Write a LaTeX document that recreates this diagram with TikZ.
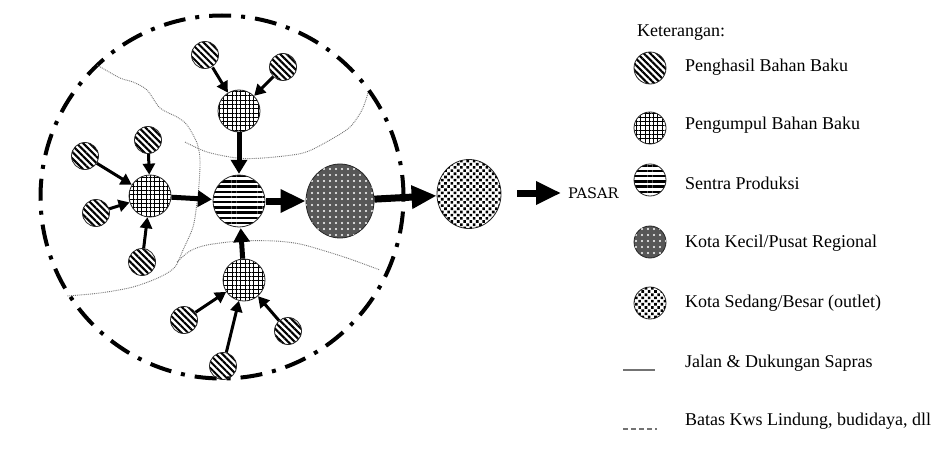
\documentclass[tikz,border=0pt]{standalone}
\usepackage{fontspec}
\setmainfont{Liberation Serif}
\newfontfamily\slabf{DejaVu Serif}
\usetikzlibrary{arrows.meta,patterns.meta,shapes.geometric}
\tikzset{
  nodebase/.style={circle, draw=black!85, line width=0.8pt, inner sep=0pt},
  prod/.style={nodebase, minimum size=27pt, pattern={Lines[angle=-45,distance=4.6pt,line width=2.1pt]}},
  coll/.style={nodebase, minimum size=42pt, pattern={Hatch[angle=0,distance=4.3pt,line width=0.9pt]}},
  cent/.style={nodebase, minimum size=52pt, pattern={Lines[angle=0,distance=5.2pt,line width=2.4pt]}},
  kec/.style={ellipse, draw=black!85, line width=0.8pt, inner sep=0pt, minimum width=68pt, minimum height=74pt, fill=black!66,
     postaction={pattern={Dots[distance=6pt,radius=1.1pt]}, pattern color=white}},
  sed/.style={ellipse, draw=black!85, line width=0.8pt, inner sep=0pt, minimum width=64pt, minimum height=69pt, fill=white,
     postaction={pattern={Dots[angle=45,distance=4.5pt,radius=1.85pt]}, pattern color=black}},
  a1/.style={line width=3pt, -{Triangle[length=11pt,width=12pt]}},
  a2/.style={line width=5pt, -{Triangle[length=14pt,width=16pt]}},
  a3/.style={line width=7pt, -{Triangle[length=25pt,width=22pt]}},
  road/.style={densely dotted, draw=black!55, line width=0.9pt},
  legtext/.style={anchor=west, inner sep=0pt, font=\fontsize{18}{20}\selectfont},
  lsym/.style={minimum size=32pt, minimum width=32pt, minimum height=32pt},
}
\begin{document}
\begin{tikzpicture}[x=1pt,y=-1pt]
\useasboundingbox (0,0) rectangle (941,457);
\fill[white] (0,0) rectangle (941,457);

% boundary
\node[circle, draw, line width=4pt, dash pattern=on 22pt off 10pt on 4pt off 10pt, minimum size=363pt, inner sep=0pt] (batas) at (222,197) {};

% roads
\draw[road] plot[smooth] coordinates {(97,65) (120,78) (133,82) (147,90) (160,108) (177,117) (187,125) (197,143) (200,160) (199,185) (197,203) (193,227) (183,250) (175,267) (160,277) (133,287) (100,293) (67,296)};
\draw[road] plot[smooth] coordinates {(185,142) (207,152) (237,158) (263,158) (303,153) (330,140) (350,127) (362,110) (368,93)};
\draw[road] plot[smooth] coordinates {(177,262) (190,251) (207,245) (240,241) (275,241) (300,244) (325,251) (350,259) (380,270)};

% producers
\node[prod] (p1) at (205,55) {};
\node[prod] (p2) at (283,67) {};
\node[prod] (p3) at (85,156) {};
\node[prod] (p4) at (148,140) {};
\node[prod] (p5) at (96,213) {};
\node[prod] (p6) at (142,262) {};
\node[prod] (p7) at (184,320) {};
\node[prod] (p8) at (223,366) {};
\node[prod] (p9) at (288,331) {};
% collectors
\node[coll] (g1) at (239,111) {};
\node[coll] (g2) at (150,196) {};
\node[coll] (g3) at (244,280) {};
% centre
\node[cent] (s) at (239,201) {};
\node[kec] (kk) at (340,201) {};
\node[sed] (ks) at (469,194) {};
\node[inner sep=0pt, anchor=west, font=\slabf\fontsize{14.5}{17}\selectfont] (pasar) at (568,193) {PASAR};
\coordinate (pa) at (517,193);

% arrows
\draw[a1] (p1) -- (g1);
\draw[a1] (p2) -- (g1);
\draw[a1] (p3) -- (g2);
\draw[a1] (p4) -- (g2);
\draw[a1] (p5) -- (g2);
\draw[a1] (p6) -- (g2);
\draw[a1] (p7) -- (g3);
\draw[a1] (p8) -- (g3);
\draw[a1] (p9) -- (g3);
\draw[a2] (g1) -- (s);
\draw[a2] (g2) -- (s);
\draw[a2] (g3) -- (s);
\draw[a3] (s) -- (kk);
\draw[a3] (kk) -- (ks);
\draw[a3] (pa) -- ([xshift=-7pt]pasar.west);

% legend
\node[legtext] (ket) at (637,33) {Keterangan:};
\node[prod, lsym] (l1) at (650,68) {};
\node[coll, lsym] (l2) at (650,128) {};
\node[cent, lsym] (l3) at (650,180) {};
\node[kec, lsym] (l4) at (650,242) {};
\node[sed, lsym] (l5) at (650,303) {};
\coordinate (j1) at (623,370);
\coordinate (j2) at (655,370);
\draw[draw=black!55, line width=1.3pt] (j1) -- (j2);
\coordinate (b1) at (623,429);
\coordinate (b2) at (657,429);
\draw[draw=black!55, line width=2pt, dash pattern=on 5pt off 3pt] (b1) -- (b2);
\node[legtext] (t1) at (685,67) {Penghasil Bahan Baku};
\node[legtext] (t2) at (685,125) {Pengumpul Bahan Baku};
\node[legtext] (t3) at (685,183) {Sentra Produksi};
\node[legtext] (t4) at (685,243) {Kota Kecil/Pusat Regional};
\node[legtext] (t5) at (685,303) {Kota Sedang/Besar (outlet)};
\node[legtext] (t6) at (685,363) {Jalan \& Dukungan Sapras};
\node[legtext] (t7) at (685,421) {Batas Kws Lindung, budidaya, dll};
\end{tikzpicture}
\end{document}
